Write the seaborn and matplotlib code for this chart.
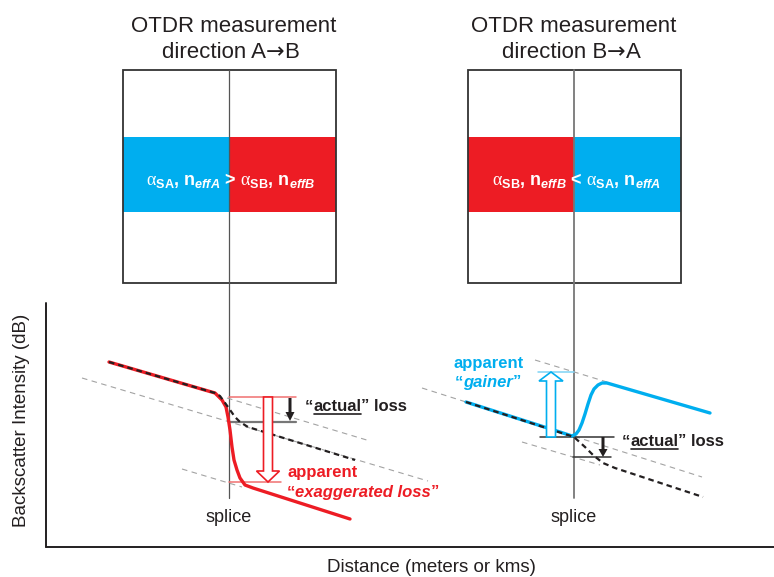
import numpy as np
import matplotlib
matplotlib.use("Agg")
import matplotlib.pyplot as plt
import seaborn as sns
from matplotlib.patches import Rectangle, FancyArrow

# colours
BLUE = "#00aeef"
RED = "#ed1c24"
INK = "#231f20"
GUIDE = "#a3a3a3"

# measured traces (picture coords: x to the right, y downwards)
red_x = [109, 215, 222, 226, 228, 230, 232, 234, 237, 240, 245, 253, 350]
red_y = [362, 393, 400, 407, 417, 430, 447, 460, 470, 478, 485, 488, 519]
true_left_x = [109, 215, 220, 228, 235, 240, 248, 355]
true_left_y = [362, 393, 396, 407, 417, 422, 427, 460]

blue_x = [466, 560, 572, 576, 579, 582, 585, 588, 591, 594, 598, 602, 607, 710]
blue_y = [402, 432, 436, 434, 430, 423, 414, 404, 395, 389, 385, 383, 383, 413]
true_right_x = [466, 574, 585, 593, 603, 615, 703]
true_right_y = [402, 437, 447, 455, 463, 468, 497]

# thin dashed slope guides: (x0, y0, x1, y1)
guides = [(227, 398, 370, 441), (82, 378, 428, 481), (182, 469, 242, 487),
          (535, 360, 607, 382), (422, 388, 702, 477), (522, 442, 600, 465)]

# splice positions and the two fibre boxes
splice_x = [229, 574]
box_left = [123, 468]
box_right = [336, 681]
box_top, box_bottom = 70, 283
band_top, band_bottom = 137, 212
left_colors = [BLUE, RED]
right_colors = [RED, BLUE]

title_line1 = "OTDR measurement"
title_x = [234, 574]
title_from = ["A", "B"]
title_to = ["B", "A"]
title_line2_x = [162, 502]
box_labels = [
    r"$\mathrm{\alpha}_{\mathbf{SA}}$, n$_{\mathbfit{effA}}$ > $\mathrm{\alpha}_{\mathbf{SB}}$, n$_{\mathbfit{effB}}$",
    r"$\mathrm{\alpha}_{\mathbf{SB}}$, n$_{\mathbfit{effB}}$ < $\mathrm{\alpha}_{\mathbf{SA}}$, n$_{\mathbfit{effA}}$",
]

sns.set_theme(style="white")
plt.rcParams["font.family"] = ["Liberation Sans", "DejaVu Sans"]
plt.rcParams["mathtext.fontset"] = "custom"
plt.rcParams["mathtext.rm"] = "Liberation Serif"
plt.rcParams["mathtext.bf"] = "Liberation Sans:bold"
plt.rcParams["mathtext.bfit"] = "Liberation Sans:bold:italic"
plt.rcParams["mathtext.it"] = "Liberation Sans:italic"

fig = plt.figure(figsize=(7.74, 5.77), dpi=100)
ax = fig.add_axes([0, 0, 1, 1])
ax.set_xlim(0, 774)
ax.set_ylim(577, 0)
ax.axis("off")
renderer = fig.canvas.get_renderer()


def run_text(x, y, pieces, size, color, weight="bold", underline_y=None):
    # pieces: (text, style, underline, family)
    for s, style, under, fam in pieces:
        t = ax.text(x, y, s, fontsize=size, fontweight=weight, fontstyle=style,
                    family=fam, color=color, ha="left", va="baseline", zorder=7)
        bb = t.get_window_extent(renderer).transformed(ax.transData.inverted())
        if under:
            ax.plot([bb.x0 + 0.5, bb.x1 - 0.5], [underline_y, underline_y], color=color, lw=1.2)
        x = bb.x1


SANS = ["Liberation Sans", "DejaVu Sans"]

# boxes
for i in range(2):
    mid = splice_x[i]
    ax.add_patch(Rectangle((box_left[i], band_top), mid - box_left[i], band_bottom - band_top,
                           facecolor=left_colors[i], edgecolor="none"))
    ax.add_patch(Rectangle((mid, band_top), box_right[i] - mid, band_bottom - band_top,
                           facecolor=right_colors[i], edgecolor="none"))
    ax.add_patch(Rectangle((box_left[i], box_top), box_right[i] - box_left[i], box_bottom - box_top,
                           facecolor="none", edgecolor="#333333", lw=1.3))
    ax.plot([mid, mid], [box_top, 498], color="#555555" if i == 0 else "#777777",
            lw=0.9 if i == 0 else 1.3, zorder=1)
    ax.text(title_x[i], 32, title_line1, ha="center", va="baseline", fontsize=16, color=INK)
    run_text(title_line2_x[i], 58,
             [("direction " + title_from[i], "normal", False, SANS),
              ("\u2192", "normal", False, ["DejaVu Sans"]),
              (title_to[i], "normal", False, SANS)], 16, INK, weight="normal")
    ax.text(mid + 2, 180, box_labels[i], ha="center", va="center", fontsize=13,
            color="white", fontweight="bold")
    ax.text(mid, 517, "splice", ha="center", va="center", fontsize=13, color=INK)

# axes of the trace plot
ax.plot([46, 46], [303, 547], color=INK, lw=1.4)
ax.plot([46, 774], [547, 547], color=INK, lw=1.4)
ax.text(22, 420, "Backscatter Intensity (dB)", rotation=90, ha="center", va="center",
        fontsize=13.5, color=INK)
ax.text(431, 567, "Distance (meters or kms)", ha="center", va="center",
        fontsize=13.5, color=INK)

for x0, y0, x1, y1 in guides:
    ax.plot([x0, x1], [y0, y1], color=GUIDE, lw=0.8, linestyle=(0, (5, 4)), zorder=2)

# traces
sns.lineplot(x=red_x, y=red_y, ax=ax, color=RED, lw=2.4, sort=False, estimator=None, zorder=4)
sns.lineplot(x=blue_x, y=blue_y, ax=ax, color=BLUE, lw=2.4, sort=False, estimator=None, zorder=4)
ax.plot(true_left_x, true_left_y, color=INK, lw=1.6, linestyle=(0, (2.5, 1.8)), zorder=5)
ax.plot(true_right_x, true_right_y, color=INK, lw=1.6, linestyle=(0, (2.5, 1.8)), zorder=5)

# marker lines for the losses
ax.plot([229, 296], [397, 397], color="#f07070", lw=1.1, zorder=3)
ax.plot([229, 281], [482, 482], color="#f07070", lw=1.1, zorder=3)
ax.plot([229, 296], [422, 422], color="#777777", lw=1.6, zorder=3)
ax.plot([540, 614], [437, 437], color="#333333", lw=1.1, zorder=3)
ax.plot([573, 611], [457, 457], color="#333333", lw=1.1, zorder=3)
ax.plot([538, 574], [372, 372], color="#7fd3f5", lw=1.1, zorder=3)

# arrows
ax.add_patch(FancyArrow(268, 397, 0, 85, width=9, head_width=23, head_length=11,
                        length_includes_head=True, facecolor="white", edgecolor=RED, lw=1.2, zorder=6))
ax.add_patch(FancyArrow(551, 437, 0, -65, width=9, head_width=24, head_length=9,
                        length_includes_head=True, facecolor="white", edgecolor=BLUE, lw=1.2, zorder=6))
ax.add_patch(FancyArrow(290, 398, 0, 23, width=3, head_width=9, head_length=9,
                        length_includes_head=True, color=INK, lw=0, zorder=6))
ax.add_patch(FancyArrow(603, 437, 0, 20, width=3, head_width=9, head_length=8,
                        length_includes_head=True, color=INK, lw=0, zorder=6))

run_text(305, 411, [("\u201c", "normal", False, SANS), ("actual", "normal", True, SANS),
                    ("\u201d loss", "normal", False, SANS)], 12, INK, underline_y=413.8)
run_text(622, 446, [("\u201c", "normal", False, SANS), ("actual", "normal", True, SANS),
                    ("\u201d loss", "normal", False, SANS)], 12, INK, underline_y=448.8)
run_text(287, 477, [("apparent", "normal", False, SANS)], 12, RED)
run_text(287, 497, [("\u201c", "normal", False, SANS), ("exaggerated loss", "italic", False, SANS),
                    ("\u201d", "normal", False, SANS)], 12, RED)
run_text(453, 368, [("apparent", "normal", False, SANS)], 12, BLUE)
run_text(455, 387, [("\u201c", "normal", False, SANS), ("gainer", "italic", False, SANS),
                    ("\u201d", "normal", False, SANS)], 12, BLUE)

fig.savefig("out.png", dpi=100)
